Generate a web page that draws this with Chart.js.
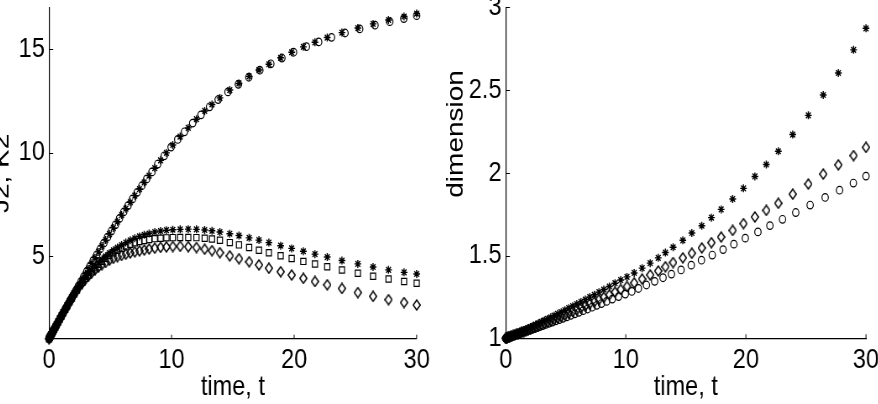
<!DOCTYPE html>
<html>
<head>
<meta charset="utf-8">
<script src="https://cdn.jsdelivr.net/npm/chart.js@4.4.1/dist/chart.umd.min.js"></script>
<style>
    html, body { margin: 0; padding: 0; background: #fff; overflow: hidden; }
    body { width: 878px; height: 404px; position: relative; }
    /* the original figure is squeezed sideways, so both panels are drawn wider and scaled back */
    canvas { position: absolute; top: 0; transform: scaleX(0.84); transform-origin: 0 0; }
    #chart1 { left: -15px; }
    #chart2 { left: 440px; }
</style>
</head>
<body>
<canvas id="chart1" width="542" height="404"></canvas>
<canvas id="chart2" width="522" height="404"></canvas>
<script>
// time grids (the solver steps differ a little between the marker sets)
var timeStar = [
    0, 0.03, 0.07, 0.12, 0.18, 0.25, 0.33, 0.42, 0.52, 0.63,
    0.75, 0.88, 1.02, 1.17, 1.33, 1.5, 1.68, 1.87, 2.07, 2.28,
    2.5, 2.73, 2.97, 3.22, 3.48, 3.75, 4.03, 4.32, 4.62, 4.93,
    5.25, 5.58, 5.92, 6.27, 6.63, 7.0, 7.38, 7.77, 8.17, 8.63,
    9.1, 9.58, 10.1, 10.7, 11.36, 12.03, 12.7, 13.3, 13.94, 14.75,
    15.5, 16.33, 17.13, 17.94, 18.9, 19.8, 20.75, 21.7, 22.7, 23.9,
    25.2, 26.44, 27.7, 28.97, 30
];
var timeCircle = [
    0, 0.015, 0.05, 0.095, 0.15, 0.215, 0.29, 0.375, 0.47, 0.575,
    0.69, 0.815, 0.95, 1.095, 1.25, 1.415, 1.59, 1.775, 1.97, 2.175,
    2.39, 2.615, 2.85, 3.095, 3.35, 3.615, 3.89, 4.175, 4.47, 4.775,
    5.09, 5.415, 5.75, 6.095, 6.45, 6.815, 7.19, 7.575, 7.97, 8.4,
    8.87, 9.4, 9.96, 10.5, 11.05, 11.72, 12.4, 13.1, 13.8, 14.6,
    15.45, 16.3, 17.2, 18.1, 19.0, 19.95, 21.0, 22.0, 23.05, 24.15,
    25.35, 26.6, 27.8, 28.95, 30
];

// left panel: J2, K2
var j2Circle = [
    1.00, 1.02, 1.05, 1.10, 1.16, 1.23, 1.31, 1.41, 1.51, 1.62,
    1.75, 1.88, 2.03, 2.18, 2.35, 2.52, 2.71, 2.90, 3.11, 3.32,
    3.54, 3.77, 4.02, 4.27, 4.52, 4.79, 5.06, 5.34, 5.62, 5.91,
    6.21, 6.51, 6.82, 7.13, 7.44, 7.76, 8.08, 8.40, 8.73, 9.07,
    9.45, 9.85, 10.27, 10.64, 11.01, 11.43, 11.83, 12.22, 12.57, 12.94,
    13.31, 13.65, 13.99, 14.30, 14.58, 14.86, 15.13, 15.36, 15.58, 15.79,
    15.99, 16.17, 16.34, 16.49, 16.63
];
var j2Star = [
    1.00, 1.03, 1.08, 1.13, 1.19, 1.27, 1.36, 1.45, 1.56, 1.68,
    1.81, 1.95, 2.10, 2.26, 2.43, 2.61, 2.80, 3.00, 3.21, 3.43,
    3.66, 3.90, 4.14, 4.39, 4.65, 4.92, 5.20, 5.48, 5.77, 6.06,
    6.36, 6.66, 6.98, 7.29, 7.60, 7.92, 8.24, 8.56, 8.89, 9.25,
    9.63, 9.99, 10.37, 10.78, 11.20, 11.62, 12.02, 12.33, 12.65, 13.03,
    13.35, 13.69, 14.00, 14.28, 14.59, 14.86, 15.12, 15.34, 15.57, 15.81,
    16.03, 16.23, 16.42, 16.59, 16.73
];
var k2Star = [
    1.00, 1.03, 1.08, 1.13, 1.19, 1.27, 1.36, 1.45, 1.56, 1.68,
    1.81, 1.95, 2.10, 2.26, 2.42, 2.60, 2.78, 2.97, 3.18, 3.37,
    3.57, 3.75, 3.95, 4.13, 4.32, 4.49, 4.67, 4.83, 4.99, 5.14,
    5.28, 5.41, 5.53, 5.65, 5.76, 5.86, 5.95, 6.03, 6.09, 6.16,
    6.21, 6.25, 6.27, 6.29, 6.30, 6.29, 6.26, 6.22, 6.16, 6.08,
    5.99, 5.88, 5.77, 5.65, 5.50, 5.37, 5.23, 5.09, 4.95, 4.78,
    4.62, 4.47, 4.33, 4.21, 4.13
];
var k2Square = [
    1.00, 1.03, 1.08, 1.13, 1.19, 1.27, 1.36, 1.45, 1.56, 1.68,
    1.81, 1.95, 2.10, 2.26, 2.42, 2.60, 2.78, 2.97, 3.17, 3.36,
    3.56, 3.73, 3.92, 4.09, 4.27, 4.43, 4.60, 4.75, 4.89, 5.03,
    5.16, 5.28, 5.38, 5.48, 5.57, 5.64, 5.70, 5.75, 5.80, 5.84,
    5.86, 5.88, 5.89, 5.90, 5.90, 5.89, 5.86, 5.82, 5.76, 5.65,
    5.54, 5.41, 5.28, 5.16, 5.01, 4.88, 4.74, 4.61, 4.48, 4.32,
    4.17, 4.02, 3.89, 3.77, 3.68
];
var k2Diamond = [
    1.00, 1.03, 1.08, 1.13, 1.19, 1.27, 1.36, 1.45, 1.56, 1.68,
    1.81, 1.95, 2.10, 2.26, 2.42, 2.60, 2.78, 2.97, 3.16, 3.35,
    3.55, 3.71, 3.88, 4.03, 4.19, 4.33, 4.46, 4.58, 4.69, 4.80,
    4.89, 4.97, 5.03, 5.09, 5.15, 5.20, 5.25, 5.29, 5.34, 5.38,
    5.42, 5.44, 5.46, 5.47, 5.45, 5.41, 5.33, 5.26, 5.16, 5.01,
    4.87, 4.72, 4.57, 4.41, 4.24, 4.08, 3.92, 3.77, 3.61, 3.43,
    3.23, 3.05, 2.89, 2.75, 2.63
];

// right panel: dimension
var dimStar = [
    1.000, 1.001, 1.002, 1.004, 1.006, 1.008, 1.011, 1.014, 1.017, 1.020,
    1.024, 1.029, 1.033, 1.038, 1.043, 1.049, 1.055, 1.062, 1.068, 1.076,
    1.083, 1.091, 1.099, 1.108, 1.117, 1.127, 1.137, 1.148, 1.158, 1.170,
    1.182, 1.194, 1.207, 1.220, 1.234, 1.249, 1.263, 1.279, 1.295, 1.313,
    1.333, 1.352, 1.371, 1.395, 1.424, 1.454, 1.486, 1.518, 1.550, 1.592,
    1.636, 1.680, 1.729, 1.779, 1.842, 1.906, 1.978, 2.050, 2.130, 2.231,
    2.347, 2.470, 2.603, 2.743, 2.873
];
var dimDiamond = [
    1.000, 1.001, 1.002, 1.003, 1.005, 1.007, 1.009, 1.011, 1.014, 1.017,
    1.020, 1.024, 1.028, 1.032, 1.037, 1.041, 1.046, 1.052, 1.058, 1.064,
    1.070, 1.077, 1.084, 1.091, 1.099, 1.107, 1.115, 1.124, 1.133, 1.143,
    1.153, 1.163, 1.174, 1.185, 1.197, 1.209, 1.221, 1.234, 1.247, 1.263,
    1.279, 1.295, 1.313, 1.335, 1.358, 1.383, 1.407, 1.432, 1.458, 1.486,
    1.514, 1.546, 1.578, 1.612, 1.652, 1.693, 1.733, 1.773, 1.816, 1.871,
    1.932, 1.992, 2.048, 2.104, 2.154
];
var dimCircle = [
    1.000, 1.000, 1.001, 1.002, 1.004, 1.005, 1.007, 1.009, 1.011, 1.014,
    1.017, 1.020, 1.023, 1.027, 1.030, 1.035, 1.039, 1.044, 1.048, 1.054,
    1.059, 1.065, 1.071, 1.077, 1.084, 1.091, 1.098, 1.105, 1.113, 1.121,
    1.130, 1.139, 1.148, 1.157, 1.167, 1.177, 1.188, 1.199, 1.210, 1.223,
    1.237, 1.252, 1.267, 1.283, 1.301, 1.322, 1.344, 1.366, 1.388, 1.413,
    1.442, 1.472, 1.503, 1.536, 1.569, 1.605, 1.643, 1.681, 1.719, 1.760,
    1.805, 1.851, 1.895, 1.938, 1.980
];

// tick labels
var timeTicks = [0, 10, 20, 30];
var leftYTicks = [5, 10, 15];
var rightYTicks = [1, 1.5, 2, 2.5, 3];

Chart.defaults.font.family = "'Liberation Sans', Arial, sans-serif";
Chart.defaults.font.size = 28;
Chart.defaults.color = '#000';

function pts(time, vals) {
    return time.map(function (t, i) { return { x: t, y: vals[i] }; });
}

// tall open diamond like the matlab 'd' marker
function diamondMarker() {
    var c = document.createElement('canvas');
    c.width = 10; c.height = 12;
    var g = c.getContext('2d');
    g.strokeStyle = '#000';
    g.lineWidth = 1.5;
    g.beginPath();
    g.moveTo(5, 1);
    g.lineTo(9.2, 6);
    g.lineTo(5, 11);
    g.lineTo(0.8, 6);
    g.closePath();
    g.stroke();
    return c;
}
var diamond = diamondMarker();

function series(time, vals, style, r, bw) {
    return {
        data: pts(time, vals),
        pointStyle: style,
        pointRadius: r,
        pointBorderColor: '#000',
        pointBackgroundColor: 'rgba(0,0,0,0)',
        pointBorderWidth: bw || 1.2,
        showLine: false,
        clip: false
    };
}

// short ticks pointing into the plot
var innerTicks = {
    id: 'innerTicks',
    beforeDatasetsDraw: function (chart) {
        var ctx = chart.ctx, a = chart.chartArea, x = chart.scales.x, y = chart.scales.y;
        ctx.save();
        ctx.strokeStyle = '#000';
        ctx.lineWidth = 1;
        ctx.beginPath();
        x.ticks.forEach(function (t) {
            var px = x.getPixelForValue(t.value);
            ctx.moveTo(px, a.bottom);
            ctx.lineTo(px, a.bottom - 4);
        });
        y.ticks.forEach(function (t) {
            var py = Math.round(y.getPixelForValue(t.value)) + 0.5;
            ctx.moveTo(a.left, py);
            ctx.lineTo(a.left + 5, py);
        });
        ctx.stroke();
        ctx.restore();
    }
};

function xAxis(h) {
    return {
        type: 'linear', min: 0, max: 30,
        afterBuildTicks: function (s) { s.ticks = timeTicks.map(function (v) { return { value: v }; }); },
        afterFit: function (s) { s.height = h; s.paddingLeft = 0; s.paddingRight = 0; },
        ticks: { padding: 5, maxRotation: 0, autoSkip: false, callback: function (v) { return String(v); } },
        grid: { display: true, drawOnChartArea: false, drawTicks: false },
        border: { color: '#000', width: 1.2 },
        title: { display: true, text: 'time, t', padding: { top: 0, bottom: 0 } }
    };
}

function yAxis(w, min, max, ticks, label, pad) {
    return {
        type: 'linear', min: min, max: max,
        afterBuildTicks: function (s) { s.ticks = ticks.map(function (v) { return { value: v }; }); },
        afterFit: function (s) { s.width = w; s.paddingTop = 0; s.paddingBottom = 0; },
        ticks: { padding: 5, autoSkip: false, callback: function (v) { return String(v); } },
        grid: { display: true, drawOnChartArea: false, drawTicks: false },
        border: { color: '#000', width: 1.2 },
        title: { display: true, text: label, padding: pad }
    };
}

function baseOptions(padTop, padRight, xs, ys) {
    return {
        responsive: false,
        animation: false,
        layout: { padding: { top: padTop, right: padRight, left: 0, bottom: 0 } },
        plugins: { legend: { display: false }, tooltip: { enabled: false } },
        scales: { x: xs, y: ys }
    };
}

// CHART #1: J2, K2 against time
var chart1 = new Chart(document.getElementById('chart1'), {
    type: 'scatter',
    plugins: [innerTicks],
    data: {
        datasets: [
            series(timeCircle, j2Circle, 'circle', 3.8),
            series(timeStar, j2Star, 'star', 4, 1.4),
            series(timeStar, k2Star, 'star', 4, 1.4),
            series(timeStar, k2Square, 'rect', 4.4),
            series(timeStar, k2Diamond, diamond, 5)
        ]
    },
    options: baseOptions(8, 28.1, xAxis(65.3), yAxis(76.2, 1, 17, leftYTicks, 'J2, K2', 3))
});

// CHART #2: dimension against time
var chart2 = new Chart(document.getElementById('chart2'), {
    type: 'scatter',
    plugins: [innerTicks],
    data: {
        datasets: [
            series(timeStar, dimStar, 'star', 4, 1.4),
            series(timeStar, dimDiamond, diamond, 5),
            series(timeCircle, dimCircle, 'circle', 3.8)
        ]
    },
    options: baseOptions(7.3, 14.9, xAxis(65.7), yAxis(78.2, 1, 3, rightYTicks, '\u00a0\u00a0\u00a0\u00a0\u00a0\u00a0\u00a0\u00a0\u00a0\u00a0dimension', 2))
});
</script>
</body>
</html>
